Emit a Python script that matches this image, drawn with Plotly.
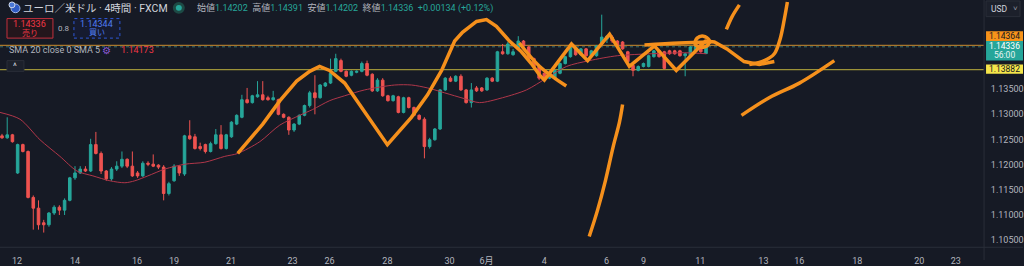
import plotly.graph_objects as go

# ---------------- data ----------------
bar_index = list(range(136))

opens = [1.12570, 1.12531, 1.12590, 1.11834, 1.12396, 1.12260, 1.11349, 1.11136, 1.10846, 1.10807,
         1.11039, 1.11155, 1.11097, 1.11291, 1.11737, 1.11834, 1.11911, 1.11873, 1.12396, 1.12221,
         1.11873, 1.11718, 1.11911, 1.11969, 1.12105, 1.11969, 1.11834, 1.11776, 1.12027, 1.12008,
         1.11989, 1.11950, 1.11427, 1.11679, 1.11969, 1.11814, 1.12570, 1.12551, 1.12357, 1.12396,
         1.12260, 1.12415, 1.12590, 1.12318, 1.12551, 1.12803, 1.12938, 1.13287, 1.13229, 1.13345,
         1.13384, 1.13326, 1.13287, 1.13287, 1.12997, 1.12938, 1.12686, 1.12803, 1.12977, 1.13171,
         1.13423, 1.13326, 1.13559, 1.13617, 1.13849, 1.14062, 1.13849, 1.13772, 1.13830, 1.13849,
         1.14004, 1.13791, 1.13462, 1.13675, 1.13365, 1.13268, 1.13345, 1.13035, 1.13326, 1.13132,
         1.12977, 1.12900, 1.12357, 1.12493, 1.12706, 1.13481, 1.13714, 1.13655, 1.13752, 1.13481,
         1.13229, 1.13520, 1.13520, 1.13481, 1.13714, 1.13655, 1.14237, 1.14198, 1.14179, 1.14295,
         1.14450, 1.14334, 1.14101, 1.13946, 1.13811, 1.13714, 1.13714, 1.13811, 1.14004, 1.14140,
         1.14295, 1.14179, 1.14295, 1.14159, 1.14159, 1.14392, 1.14489, 1.14528, 1.14450, 1.14431,
         1.14237, 1.13966, 1.13869, 1.13946, 1.13946, 1.14140, 1.14256, 1.14237, 1.14256, 1.14256,
         1.14256, 1.14159, 1.14159, 1.14256, 1.14431, 1.14202]

highs = [1.12609, 1.12938, 1.12609, 1.12415, 1.12415, 1.12280, 1.11388, 1.11291, 1.10904, 1.11059,
         1.11194, 1.11194, 1.11330, 1.11756, 1.11969, 1.11969, 1.11969, 1.12512, 1.12648, 1.12260,
         1.11892, 1.11950, 1.12066, 1.12260, 1.12124, 1.12260, 1.11873, 1.12066, 1.12066, 1.12202,
         1.12008, 1.11989, 1.11659, 1.12008, 1.11989, 1.12590, 1.12880, 1.12609, 1.12435, 1.12415,
         1.12454, 1.12706, 1.12783, 1.12609, 1.12861, 1.12997, 1.13384, 1.13520, 1.13384, 1.13655,
         1.13655, 1.13365, 1.13462, 1.13307, 1.13016, 1.12958, 1.12822, 1.12997, 1.13190, 1.13462,
         1.13772, 1.13597, 1.13636, 1.14101, 1.14198, 1.14101, 1.13869, 1.13869, 1.13869, 1.14043,
         1.14062, 1.13811, 1.13714, 1.13714, 1.13384, 1.13384, 1.13365, 1.13345, 1.13345, 1.13152,
         1.12997, 1.12938, 1.12531, 1.12725, 1.13500, 1.13733, 1.13752, 1.13772, 1.13791, 1.13500,
         1.13617, 1.13559, 1.13539, 1.13733, 1.13733, 1.14256, 1.14392, 1.14431, 1.14295, 1.14547,
         1.14469, 1.14353, 1.14121, 1.13966, 1.13830, 1.13849, 1.13888, 1.14024, 1.14159, 1.14372,
         1.14314, 1.14314, 1.14314, 1.14276, 1.14372, 1.14973, 1.14566, 1.14566, 1.14469, 1.14450,
         1.14256, 1.13985, 1.13966, 1.14024, 1.14179, 1.14276, 1.14276, 1.14256, 1.14276, 1.14276,
         1.14276, 1.14218, 1.14353, 1.14372, 1.14450, 1.14391]

lows = [1.12512, 1.12512, 1.12435, 1.11814, 1.12241, 1.11330, 1.10710, 1.10710, 1.10652, 1.10768,
        1.11000, 1.11000, 1.11000, 1.11272, 1.11698, 1.11814, 1.11853, 1.11853, 1.12202, 1.11814,
        1.11679, 1.11679, 1.11873, 1.11931, 1.11931, 1.11756, 1.11737, 1.11756, 1.11969, 1.11950,
        1.11911, 1.11291, 1.11388, 1.11659, 1.11776, 1.11776, 1.12493, 1.12299, 1.12280, 1.12221,
        1.12241, 1.12396, 1.12299, 1.12299, 1.12531, 1.12783, 1.12919, 1.13210, 1.13210, 1.13326,
        1.13268, 1.13268, 1.13268, 1.12977, 1.12919, 1.12590, 1.12648, 1.12783, 1.12958, 1.13132,
        1.12997, 1.13307, 1.13539, 1.13597, 1.13830, 1.13830, 1.13733, 1.13752, 1.13811, 1.13830,
        1.13752, 1.13442, 1.13442, 1.13345, 1.13249, 1.13249, 1.13016, 1.13016, 1.13113, 1.12958,
        1.12880, 1.12124, 1.12318, 1.12473, 1.12686, 1.13462, 1.13636, 1.13636, 1.13462, 1.13210,
        1.13132, 1.13442, 1.13442, 1.13462, 1.13636, 1.13636, 1.14179, 1.14179, 1.14159, 1.14276,
        1.14334, 1.14082, 1.13927, 1.13675, 1.13694, 1.13694, 1.13675, 1.13791, 1.13985, 1.14121,
        1.14159, 1.14159, 1.14140, 1.14140, 1.14140, 1.14372, 1.14411, 1.14411, 1.14334, 1.14276,
        1.14024, 1.13752, 1.13849, 1.13927, 1.13927, 1.14121, 1.14121, 1.13888, 1.14179, 1.14179,
        1.14140, 1.13752, 1.14140, 1.14237, 1.14218, 1.14202]

closes = [1.12531, 1.12590, 1.12454, 1.12396, 1.12260, 1.11349, 1.11136, 1.10807, 1.10807, 1.11039,
          1.11155, 1.11097, 1.11291, 1.11737, 1.11834, 1.11911, 1.11873, 1.12396, 1.12221, 1.11873,
          1.11718, 1.11911, 1.11969, 1.12105, 1.11969, 1.11776, 1.11776, 1.12027, 1.12008, 1.11969,
          1.11950, 1.11427, 1.11621, 1.11969, 1.11834, 1.12570, 1.12512, 1.12318, 1.12318, 1.12260,
          1.12415, 1.12590, 1.12318, 1.12590, 1.12841, 1.12977, 1.13287, 1.13229, 1.13365, 1.13384,
          1.13287, 1.13287, 1.13326, 1.12997, 1.12938, 1.12686, 1.12803, 1.12977, 1.13171, 1.13423,
          1.13326, 1.13578, 1.13617, 1.13811, 1.14101, 1.13849, 1.13752, 1.13849, 1.13849, 1.14004,
          1.13772, 1.13462, 1.13675, 1.13365, 1.13268, 1.13365, 1.13035, 1.13326, 1.13132, 1.12977,
          1.12900, 1.12357, 1.12493, 1.12706, 1.13481, 1.13714, 1.13655, 1.13752, 1.13481, 1.13229,
          1.13481, 1.13462, 1.13462, 1.13714, 1.13655, 1.14237, 1.14198, 1.14392, 1.14237, 1.14450,
          1.14353, 1.14101, 1.13946, 1.13714, 1.13714, 1.13811, 1.13869, 1.14004, 1.14140, 1.14334,
          1.14179, 1.14295, 1.14159, 1.14256, 1.14353, 1.14528, 1.14547, 1.14450, 1.14353, 1.14295,
          1.14043, 1.13869, 1.13946, 1.14004, 1.14159, 1.14256, 1.14140, 1.13908, 1.14198, 1.14198,
          1.14159, 1.14198, 1.14334, 1.14353, 1.14237, 1.14336]

# SMA 20 line (bar index, value)
sma_idx = [-0.38, 3.45, 7.28, 11.11, 14.37, 17.43, 20.69, 23.56, 25.48, 27.97, 31.23, 35.06,
           38.89, 42.72, 45.21, 49.43, 53.26, 57.09, 59.58, 62.84, 65.71, 69.54, 75.29, 78.54,
           81.61, 84.87, 88.70, 91.57, 95.98, 100.57, 104.41, 108.24, 112.64, 118.01, 124.52,
           130.84, 135.06]
sma_val = [1.13035, 1.12900, 1.12493, 1.12163, 1.11873, 1.11776, 1.11679, 1.11640, 1.11679,
           1.11776, 1.11911, 1.12008, 1.12047, 1.12163, 1.12221, 1.12454, 1.12783, 1.12977,
           1.13093, 1.13268, 1.13365, 1.13481, 1.13578, 1.13578, 1.13520, 1.13423, 1.13307,
           1.13229, 1.13326, 1.13481, 1.13714, 1.13946, 1.14062, 1.14159, 1.14198, 1.14218,
           1.14198]

# x-axis day labels
tick_pos = [2.9, 14.0, 25.9, 33.0, 43.9, 55.7, 62.8, 73.9, 85.8, 92.9, 104.0, 115.9,
            123.0, 133.9, 146.0, 152.9, 164.0, 175.9, 182.9]
tick_text = ["12", "14", "16", "19", "21", "23", "26", "28", "30", "6月", "4", "6",
             "9", "11", "13", "16", "18", "20", "23"]

# price ticks (1.14000 sits under the price labels, so it is left out)
price_ticks = [1.105, 1.110, 1.115, 1.120, 1.125, 1.130, 1.135]

# horizontal levels
level_top = 1.14364
level_bottom = 1.13882
last_price = 1.14336

# hand-drawn orange strokes (bar index, price)
stroke_main_x = [45.2, 50.0, 53.3, 56.5, 59.0, 60.9, 62.8, 65.7, 73.9, 78.5, 81.6, 84.3,
                 86.8, 88.3, 91.0, 92.9, 94.8, 97.3, 99.6, 101.5, 103.1, 104.0, 105.4,
                 109.2, 112.3, 116.5, 120.3, 125.1, 129.3, 133.1, 134.9, 136.6, 139.0,
                 142.3, 145.2, 148.1]
stroke_main_y = [1.12221, 1.12802, 1.13267, 1.13655, 1.13849, 1.13946, 1.13868, 1.13617,
                 1.12395, 1.12938, 1.13384, 1.13869, 1.14450, 1.14624, 1.14838, 1.14876,
                 1.14741, 1.14450, 1.14237, 1.14004, 1.13772, 1.13675, 1.13869, 1.14392,
                 1.14062, 1.14586, 1.13946, 1.14353, 1.13869, 1.14256, 1.14450, 1.14430,
                 1.14295, 1.14043, 1.13985, 1.14043]
stroke_b_x = [99.2, 103.1, 108.2]
stroke_b_y = [1.14411, 1.13946, 1.13558]
stroke_c_x = [123.2, 129.9, 136.0]
stroke_c_y = [1.14372, 1.14411, 1.14430]
stroke_d_x = [132.9, 133.3, 134.5, 135.6, 135.2, 133.7, 132.9]
stroke_d_y = [1.14392, 1.14508, 1.14547, 1.14469, 1.14353, 1.14333, 1.14392]
stroke_e_x = [138.9, 140.0, 141.4]
stroke_e_y = [1.14682, 1.14935, 1.15167]
stroke_f_x = [143.3, 146.2, 148.1, 149.2, 150.0, 150.6]
stroke_f_y = [1.13985, 1.14062, 1.14198, 1.14488, 1.14876, 1.15225]
stroke_g_x = [141.8, 147.1, 152.9, 159.6]
stroke_g_y = [1.12977, 1.13326, 1.13616, 1.14062]
stroke_h_x = [112.6, 114.2, 115.7, 117.2, 118.4, 119.0]
stroke_h_y = [1.10574, 1.11097, 1.11678, 1.12357, 1.12841, 1.13190]

# ---------------- styling ----------------
BG = "#161a25"
GRID = "#2a2e39"
TXT = "#b2b5be"
UP = "#26a69a"
DN = "#ef5350"
ORANGE = "#f5901c"
FONT = "Roboto, 'Noto Sans CJK JP', sans-serif"

W, H = 1024, 266
PLOT_R = 985
PLOT_B = 253


def PX(x):
    return x / W


def PY(y):
    return 1 - y / H


fig = go.Figure()

fig.add_trace(go.Candlestick(
    x=bar_index, open=opens, high=highs, low=lows, close=closes,
    increasing=dict(line=dict(color=UP, width=1), fillcolor=UP),
    decreasing=dict(line=dict(color=DN, width=1), fillcolor=DN),
    whiskerwidth=0, showlegend=False, hoverinfo="skip"))

fig.add_trace(go.Scatter(x=sma_idx, y=sma_val, mode="lines",
                         line=dict(color="#b0374a", width=1, shape="spline", smoothing=0.8),
                         showlegend=False, hoverinfo="skip"))

for sx, sy, shp in [(stroke_main_x, stroke_main_y, "linear"),
                    (stroke_b_x, stroke_b_y, "spline"),
                    (stroke_c_x, stroke_c_y, "spline"),
                    (stroke_d_x, stroke_d_y, "spline"),
                    (stroke_e_x, stroke_e_y, "spline"),
                    (stroke_f_x, stroke_f_y, "spline"),
                    (stroke_g_x, stroke_g_y, "spline"),
                    (stroke_h_x, stroke_h_y, "spline")]:
    fig.add_trace(go.Scatter(x=sx, y=sy, mode="lines",
                             line=dict(color=ORANGE, width=3.5, shape=shp),
                             showlegend=False, hoverinfo="skip"))

shapes = [
    dict(type="line", xref="paper", yref="y", x0=0, x1=PX(PLOT_R), y0=level_top, y1=level_top,
         line=dict(color="#a8762c", width=1.2), layer="below"),
    dict(type="line", xref="paper", yref="y", x0=0, x1=PX(PLOT_R), y0=level_bottom, y1=level_bottom,
         line=dict(color="#9c9238", width=1.2), layer="below"),
    dict(type="line", xref="paper", yref="y", x0=0, x1=PX(PLOT_R), y0=last_price, y1=last_price,
         line=dict(color="#3b6f6a", width=1, dash="dot"), layer="below"),
    # axis separators
    dict(type="line", xref="paper", yref="paper", x0=PX(PLOT_R), x1=PX(PLOT_R), y0=0, y1=1,
         line=dict(color=GRID, width=1)),
    dict(type="line", xref="paper", yref="paper", x0=0, x1=1, y0=PY(PLOT_B), y1=PY(PLOT_B),
         line=dict(color=GRID, width=1)),
    # USD box
    dict(type="rect", xref="paper", yref="paper", x0=PX(987), x1=PX(1021), y0=PY(17), y1=PY(1),
         line=dict(color="#2a2e39", width=1), fillcolor="#1c202b"),
    # price labels
    dict(type="rect", xref="paper", yref="paper", x0=PX(987), x1=PX(1024), y0=PY(42), y1=PY(32),
         line=dict(width=0), fillcolor="#f7931a"),
    dict(type="rect", xref="paper", yref="paper", x0=PX(987), x1=PX(1024), y0=PY(62), y1=PY(42),
         line=dict(width=0), fillcolor="#26a69a"),
    dict(type="rect", xref="paper", yref="paper", x0=PX(987), x1=PX(1024), y0=PY(75.5), y1=PY(66),
         line=dict(width=0), fillcolor="#f5e54a"),
    # sell / buy boxes
    dict(type="rect", xref="paper", yref="paper", x0=PX(7), x1=PX(53), y0=PY(39), y1=PY(19),
         line=dict(color="#c2303d", width=1), fillcolor="#24161c"),
    dict(type="rect", xref="paper", yref="paper", x0=PX(74), x1=PX(120), y0=PY(39), y1=PY(19),
         line=dict(color="#2f58d8", width=1, dash="dot"), fillcolor="#161b30"),
    # collapse button
    dict(type="rect", xref="paper", yref="paper", x0=PX(7), x1=PX(24), y0=PY(73), y1=PY(62),
         line=dict(color="#2a2e39", width=1), fillcolor="#1c202b"),
    # header icons
    dict(type="circle", xref="paper", yref="paper", x0=PX(173), x1=PX(185), y0=PY(14), y1=PY(2),
         line=dict(width=0), fillcolor="#1d4a45"),
    dict(type="circle", xref="paper", yref="paper", x0=PX(176), x1=PX(182), y0=PY(11), y1=PY(5),
         line=dict(width=0), fillcolor="#26a69a"),
    dict(type="circle", xref="paper", yref="paper", x0=PX(11), x1=PX(20), y0=PY(13), y1=PY(4),
         line=dict(color="#9fb8e8", width=1), fillcolor="#2f5bc4"),
    dict(type="circle", xref="paper", yref="paper", x0=PX(9), x1=PX(15), y0=PY(8), y1=PY(2),
         line=dict(color="#cfd8ea", width=1), fillcolor="#4a78d6"),
]

ann = []


def text(x, y, s, size=9, color=TXT, anchor="left"):
    ann.append(dict(x=PX(x), y=PY(y), xref="paper", yref="paper", text=s, showarrow=False,
                    xanchor=anchor, yanchor="middle", font=dict(size=size, color=color, family=FONT)))


text(21, 8.5, "ユーロ／米ドル · 4時間 · FXCM", size=10.5, color="#d1d4dc")
g = "#26a69a"
ohlc = ("始値<span style='color:%s'>1.14202</span>  高値<span style='color:%s'>1.14391</span>  "
        "安値<span style='color:%s'>1.14202</span>  終値<span style='color:%s'>1.14336</span>  "
        "<span style='color:%s'>+0.00134 (+0.12%%)</span>") % (g, g, g, g, g)
text(195, 8.5, ohlc, size=9, color="#b2b5be")
text(30, 25, "1.14336", size=9, color="#f23645", anchor="center")
text(30, 33.5, "売り", size=8, color="#f23645", anchor="center")
text(64, 29.5, "0.8", size=8, color=TXT, anchor="center")
text(97, 25, "1.14344", size=9, color="#4f7df0", anchor="center")
text(97, 33.5, "買い", size=8, color="#4f7df0", anchor="center")
text(7, 51.5, "SMA 20 close 0 SMA 5", size=9, color="#b2b5be")
text(107, 51.5, "⚙", size=10, color="#8e5bd8", anchor="center")
text(119, 51.5, "1.14173", size=9, color="#f23645")
text(15.5, 68, "^", size=9, color="#d1d4dc", anchor="center")
text(990, 9, "USD", size=8.5, color="#d1d4dc")
text(1016, 9, "˅", size=8, color="#9598a1", anchor="center")
text(1005.5, 37, "1.14364", size=8.5, color="#131722", anchor="center")
text(1005.5, 47, "1.14336", size=8.5, color="#ffffff", anchor="center")
text(1005.5, 56.5, "56:00", size=8.5, color="#e8f4f2", anchor="center")
text(1005.5, 71, "1.13882", size=8.5, color="#131722", anchor="center")

fig.update_layout(
    width=W, height=H,
    margin=dict(l=0, r=0, t=0, b=0),
    paper_bgcolor=BG, plot_bgcolor=BG,
    font=dict(family=FONT, color=TXT, size=9),
    showlegend=False,
    shapes=shapes, annotations=ann,
    xaxis=dict(domain=[0, PLOT_R / W], range=[-0.383, 188.31], rangeslider=dict(visible=False),
               tickmode="array", tickvals=tick_pos, ticktext=tick_text, ticks="",
               ticklabelstandoff=7,
               tickfont=dict(size=9, color=TXT), showgrid=False, zeroline=False, showline=False,
               fixedrange=True),
    yaxis=dict(domain=[1 - PLOT_B / H, 1], range=[1.10360, 1.15264], side="right",
               tickmode="array", tickvals=price_ticks, ticktext=["%.5f" % v for v in price_ticks],
               ticks="outside", ticklen=4, tickcolor=BG,
               tickfont=dict(size=9, color=TXT), showgrid=False, zeroline=False, showline=False,
               fixedrange=True),
)

fig.write_html("out.html")
